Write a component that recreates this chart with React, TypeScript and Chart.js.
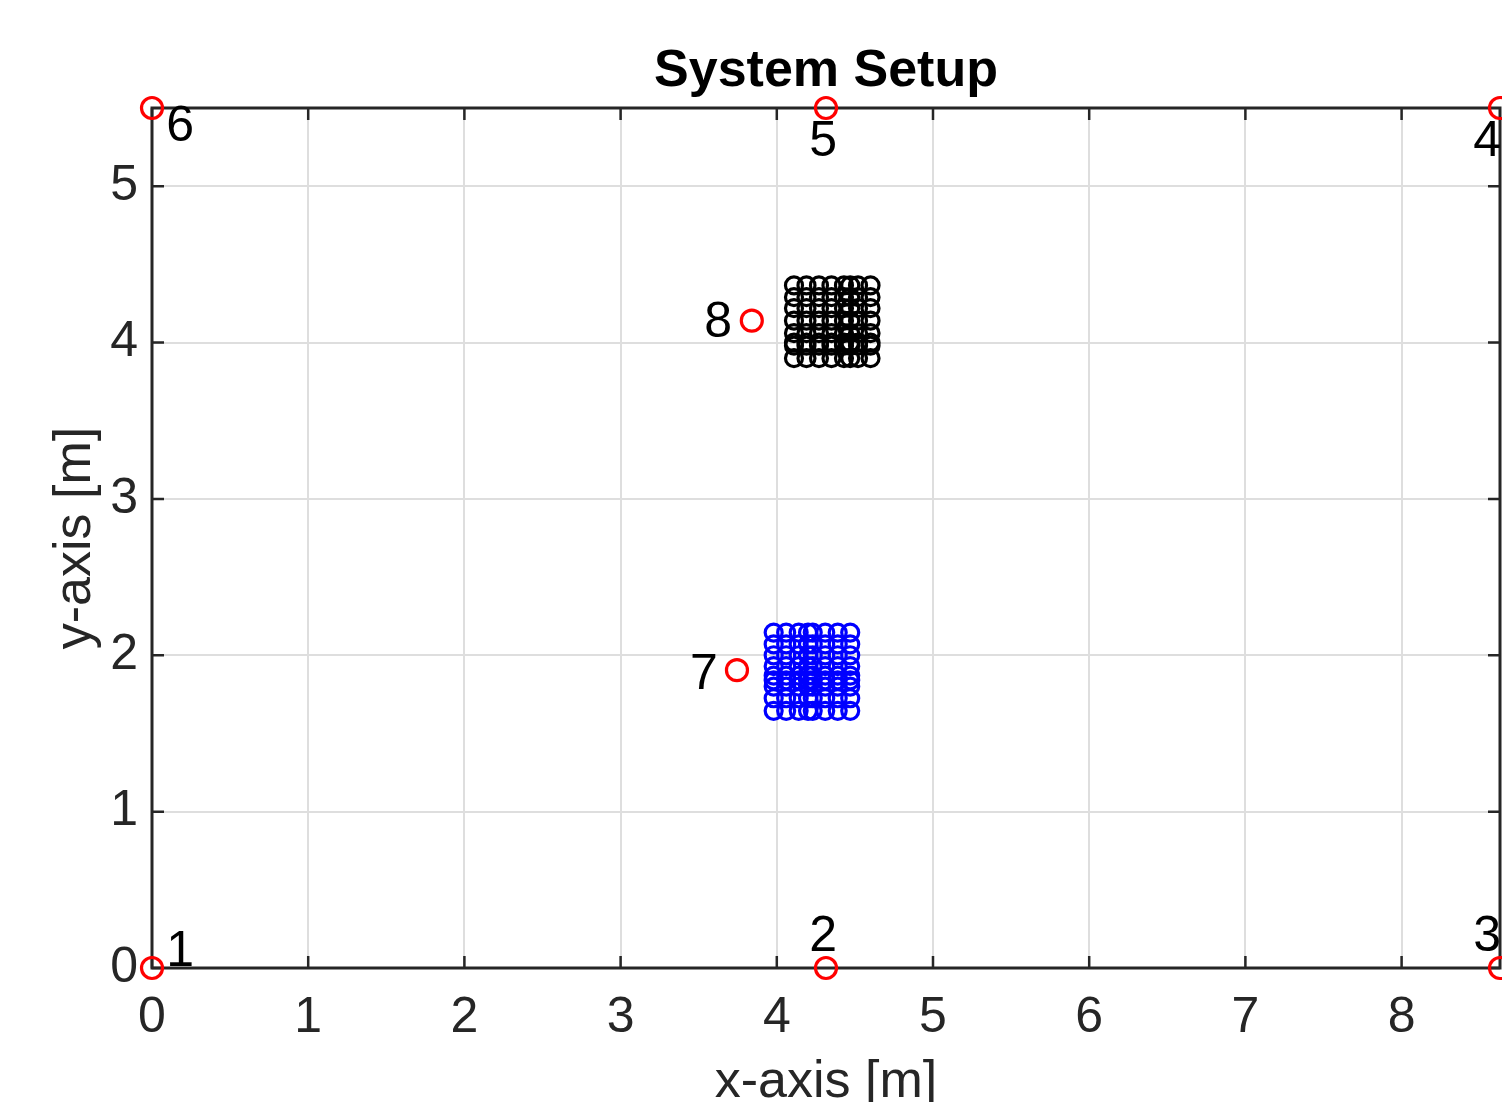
import React, { useEffect, useRef } from "react";
import { Chart, registerables } from "chart.js";

Chart.register(...registerables);

// ---- data ----
const anchorX = [0, 4.315, 8.63, 8.63, 4.315, 0, 3.745, 3.84];
const anchorY = [0, 0, 0, 5.5, 5.5, 5.5, 1.905, 4.14];
const anchorNames = ["1", "2", "3", "4", "5", "6", "7", "8"];
const anchorLabelX = [0.18, 4.296, 8.547, 8.547, 4.296, 0.18, 3.534, 3.624];
const anchorLabelY = [0.1, 0.2, 0.2, 5.278, 5.278, 5.374, 1.87, 4.125];

const blackColsX = [4.11, 4.19, 4.27, 4.35, 4.43, 4.47, 4.52, 4.6];
const blackRowsY = [3.9, 3.98, 4.0, 4.06, 4.14, 4.22, 4.29, 4.365];
const blueColsX = [3.98, 4.06, 4.14, 4.2, 4.23, 4.31, 4.39, 4.47];
const blueRowsY = [1.645, 1.725, 1.8, 1.84, 1.87, 1.93, 2.0, 2.07, 2.145];

const xTicks = [0, 1, 2, 3, 4, 5, 6, 7, 8];
const yTicks = [0, 1, 2, 3, 4, 5];
const xMax = 8.63;
const yMax = 5.5;

const titleText = "System Setup";
const xLabel = "x-axis [m]";
const yLabel = "y-axis [m]";

const FONT = "'Liberation Sans', Arial, Helvetica, sans-serif";
const AXIS_COLOR = "#262626";

function grid(xs: number[], ys: number[]) {
  const out: { x: number; y: number }[] = [];
  for (const y of ys) for (const x of xs) out.push({ x, y });
  return out;
}

const decorPlugin = {
  id: "decor",
  beforeDatasetsDraw(chart: any) {
    const { ctx, chartArea: a, scales } = chart;
    ctx.save();
    ctx.strokeStyle = AXIS_COLOR;
    ctx.lineWidth = 2.5;
    const tl = 12;
    ctx.beginPath();
    for (const v of xTicks) {
      const px = scales.x.getPixelForValue(v);
      ctx.moveTo(px, a.bottom);
      ctx.lineTo(px, a.bottom - tl);
      ctx.moveTo(px, a.top);
      ctx.lineTo(px, a.top + tl);
    }
    for (const v of yTicks) {
      const py = scales.y.getPixelForValue(v);
      ctx.moveTo(a.left, py);
      ctx.lineTo(a.left + tl, py);
      ctx.moveTo(a.right, py);
      ctx.lineTo(a.right - tl, py);
    }
    ctx.stroke();
    ctx.lineWidth = 3;
    ctx.strokeRect(a.left, a.top, a.right - a.left, a.bottom - a.top);
    ctx.restore();
  },
  afterDatasetsDraw(chart: any) {
    const { ctx, chartArea: a, scales } = chart;
    ctx.save();
    ctx.fillStyle = "#000";
    ctx.font = `50px ${FONT}`;
    ctx.textAlign = "center";
    ctx.textBaseline = "middle";
    anchorNames.forEach((n, i) => {
      ctx.fillText(
        n,
        scales.x.getPixelForValue(anchorLabelX[i]),
        scales.y.getPixelForValue(anchorLabelY[i])
      );
    });
    ctx.font = `bold 52px ${FONT}`;
    ctx.fillText(titleText, (a.left + a.right) / 2, 72);
    ctx.restore();
  },
};

export default function App() {
  const ref = useRef<HTMLCanvasElement>(null);
  useEffect(() => {
    if (!ref.current) return;
    const chart = new Chart(ref.current, {
      type: "scatter",
      data: {
        datasets: [
          {
            label: "blue",
            data: grid(blueColsX, blueRowsY),
            pointStyle: "circle",
            pointRadius: 8.5,
            pointBorderWidth: 3.2,
            borderColor: "#0000ff",
            backgroundColor: "rgba(0,0,0,0)",
            clip: false,
          } as any,
          {
            label: "black",
            data: grid(blackColsX, blackRowsY),
            pointStyle: "circle",
            pointRadius: 8.5,
            pointBorderWidth: 3.2,
            borderColor: "#000000",
            backgroundColor: "rgba(0,0,0,0)",
            clip: false,
          } as any,
          {
            label: "anchors",
            data: anchorX.map((x, i) => ({ x, y: anchorY[i] })),
            pointStyle: "circle",
            pointRadius: 10.5,
            pointBorderWidth: 3.2,
            borderColor: "#ff0000",
            backgroundColor: "rgba(0,0,0,0)",
            clip: false,
          } as any,
        ],
      },
      options: {
        animation: false,
        responsive: false,
        events: [],
        layout: { autoPadding: false, padding: { top: 108, right: 2, left: 0, bottom: 0 } },
        plugins: {
          legend: { display: false },
          title: { display: false },
          tooltip: { enabled: false },
        },
        scales: {
          x: {
            type: "linear",
            min: 0,
            max: xMax,
            afterFit: (s: any) => {
              s.height = 134;
              s.paddingLeft = 0;
              s.paddingRight = 0;
            },
            afterBuildTicks: (s: any) => {
              s.ticks = xTicks.map((v) => ({ value: v }));
            },
            ticks: {
              padding: 25,
              color: AXIS_COLOR,
              font: { family: FONT, size: 50, lineHeight: 1 },
              maxRotation: 0,
              autoSkip: false,
            },
            grid: { color: "#dedede", lineWidth: 2, drawTicks: false },
            border: { display: false },
            title: {
              display: true,
              text: xLabel,
              color: AXIS_COLOR,
              font: { family: FONT, size: 52, lineHeight: 1 },
              padding: { top: 0, bottom: -7 },
            },
          },
          y: {
            type: "linear",
            min: 0,
            max: yMax,
            afterFit: (s: any) => {
              s.width = 152;
              s.paddingTop = 0;
              s.paddingBottom = 0;
            },
            afterBuildTicks: (s: any) => {
              s.ticks = yTicks.map((v) => ({ value: v }));
            },
            ticks: {
              padding: 14,
              color: AXIS_COLOR,
              font: { family: FONT, size: 50, lineHeight: 1 },
              autoSkip: false,
            },
            grid: { color: "#dedede", lineWidth: 2, drawTicks: false },
            border: { display: false },
            title: {
              display: true,
              text: yLabel,
              color: AXIS_COLOR,
              font: { family: FONT, size: 52, lineHeight: 1 },
              padding: { top: 50, bottom: 0 },
            },
          },
        },
      },
      plugins: [decorPlugin],
    });
    return () => chart.destroy();
  }, []);
  return (
    <div style={{ position: "absolute", left: 0, top: 0, width: 1502, height: 1102, background: "#fff" }}>
      <canvas ref={ref} width={1502} height={1102} />
    </div>
  );
}
